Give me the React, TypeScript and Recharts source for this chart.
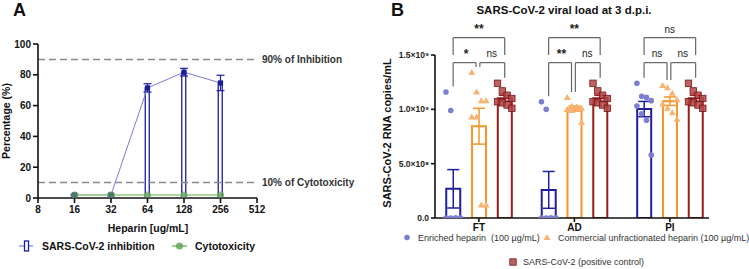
import React from "react";
import {
  Bar,
  ComposedChart,
  ErrorBar,
  Line,
  ReferenceDot,
  ReferenceLine,
  Scatter,
  XAxis,
  YAxis
} from "recharts";

const FONT = '"Liberation Sans", Arial, sans-serif';

// ---- panel A: inhibition vs cytotoxicity
const concentrations = [16, 32, 64, 128, 256];
const inhibitionMean = [2, 2, 71.5, 81.7, 74.7];
const inhibitionSem = [0.5, 0.5, 2.7, 2.5, 5];
const cytotoxicityMean = [1.9, 1.9, 1.9, 1.9, 1.9];
const concTicks = [8, 16, 32, 64, 128, 256, 512];
const percentTicks = [0, 20, 40, 60, 80, 100];

// ---- panel B: viral load at 3 d.p.i. (copies/mL, one value per animal)
const timepoints = ["FT", "AD", "PI"];
const enrichedValues = [
  [1.16e9, 0.99e9, 0, 0, 0, 0, 0, 0],
  [1.07e9, 1.0e9, 0, 0, 0, 0, 0, 0],
  [1.24e9, 1.12e9, 1.11e9, 1.08e9, 1.03e9, 0.96e9, 0.9e9, 0.58e9]
];
const commercialValues = [
  [1.34e9, 1.16e9, 1.08e9, 1.08e9, 0.93e9, 0.93e9, 0.12e9, 0.12e9],
  [1.11e9, 1.03e9, 1.02e9, 1.01e9, 1.0e9, 0.99e9, 1.02e9, 0.88e9],
  [1.22e9, 1.2e9, 1.15e9, 1.09e9, 1.05e9, 1.01e9, 0.97e9, 0.91e9]
];
const controlValues = [
  [1.24e9, 1.17e9, 1.13e9, 1.1e9, 1.07e9, 1.06e9, 1.04e9, 1.01e9],
  [1.24e9, 1.17e9, 1.13e9, 1.1e9, 1.07e9, 1.06e9, 1.04e9, 1.01e9],
  [1.24e9, 1.17e9, 1.13e9, 1.1e9, 1.07e9, 1.06e9, 1.04e9, 1.01e9]
];
const loadTicks = [0, 5e8, 1e9, 1.5e9];
// [all three, enriched vs commercial, commercial vs control]
const statLabels = [
  ["**", "*", "ns"],
  ["**", "**", "ns"],
  ["ns", "ns", "ns"]
];

const rowsA = concentrations.map((c, i) => ({
  conc: c,
  inh: inhibitionMean[i],
  inhErr: inhibitionSem[i],
  cyto: cytotoxicityMean[i]
}));

const mean = (v: number[]) => v.reduce((a, b) => a + b, 0) / v.length;
const sem = (v: number[]) => {
  const m = mean(v);
  const sd = Math.sqrt(v.reduce((a, b) => a + (b - m) ** 2, 0) / (v.length - 1));
  return sd / Math.sqrt(v.length);
};

const SERIES = [
  { key: "enr", values: enrichedValues, offset: -0.27, stroke: "#1f1f9c" },
  { key: "com", values: commercialValues, offset: 0, stroke: "#f6952c" },
  { key: "ctl", values: controlValues, offset: 0.27, stroke: "#9b1c1c" }
];

const rowsB: Record<string, number>[] = [];
timepoints.forEach((_, g) => {
  SERIES.forEach((s) => {
    const v = s.values[g];
    rowsB.push({ x: g + s.offset, [s.key]: mean(v), [s.key + "Err"]: sem(v) });
  });
});

// spread the individual points a little across the bar
const pointsOf = (values: number[][], offset: number) =>
  values.flatMap((v, g) => v.map((y, i) => ({ x: g + offset + ((i % 4) - 1.5) * 0.05, y })));

const SUP: Record<string, string> = { "8": "⁸", "9": "⁹" };
function sci(v: number) {
  if (v === 0) return "0.0";
  const e = Math.floor(Math.log10(v));
  return `${(v / 10 ** e).toFixed(1)}×10${String(e).split("").map((c) => SUP[c] ?? c).join("")}`;
}

const CircleDot = (p: any) => <circle cx={p.cx} cy={p.cy} r={2.8} fill="#7d7dd2" />;
const TriDot = (p: any) => (
  <polygon
    points={`${p.cx},${p.cy - 3.4} ${p.cx + 3.5},${p.cy + 2.6} ${p.cx - 3.5},${p.cy + 2.6}`}
    fill="#f8b370"
  />
);
const SquareDot = (p: any) => (
  <rect x={p.cx - 3.2} y={p.cy - 3.2} width={6.4} height={6.4} fill="#b04646" fillOpacity={0.85} stroke="#7c1515" strokeWidth={0.8} />
);

const TOP = 1.66e9;
const TOP_DROP = 1.5e9;
const LOW = 1.43e9;
const X_MIN = -0.46;
const X_MAX = 2.41;

function brackets() {
  const segs: number[][] = [];
  const labels: { x: number; y: number; text: string }[] = [];
  timepoints.forEach((_, g) => {
    const drop = SERIES.map((s) => Math.max(...s.values[g]) + 0.05e9);
    const xb = g + SERIES[0].offset;
    const xc = g + SERIES[1].offset;
    const xr = g + SERIES[2].offset;
    segs.push([xb, TOP_DROP, xb, TOP], [xb, TOP, xr, TOP], [xr, TOP, xr, TOP_DROP]);
    segs.push([xb, drop[0], xb, LOW], [xb, LOW, xc - 0.03, LOW], [xc - 0.03, LOW, xc - 0.03, drop[1]]);
    segs.push([xc + 0.01, drop[1], xc + 0.01, LOW], [xc + 0.01, LOW, xr, LOW], [xr, LOW, xr, drop[2]]);
    labels.push({ x: g, y: 1.74e9, text: statLabels[g][0] });
    labels.push({ x: (xb + xc) / 2, y: 1.51e9, text: statLabels[g][1] });
    labels.push({ x: (xc + xr) / 2, y: 1.51e9, text: statLabels[g][2] });
  });
  return { segs, labels };
}

function Txt({ x, y, children, style, vertical }: any) {
  return (
    <div
      style={{
        position: "absolute",
        left: x,
        top: y,
        lineHeight: 1,
        whiteSpace: "nowrap",
        transform: vertical ? "translate(-50%,-50%) rotate(-90deg)" : "translate(0,-50%)",
        ...style
      }}
    >
      {children}
    </div>
  );
}

const axisTickA = { fontSize: 10, fontWeight: 700, fill: "#111" };

function PanelA() {
  return (
    <div style={{ position: "absolute", left: 0, top: 0 }}>
      <ComposedChart width={375} height={269} data={rowsA} margin={{ top: 44, right: 118, bottom: 51, left: 8 }}>
        <XAxis
          dataKey="conc"
          type="number"
          scale="log"
          domain={[8, 512]}
          ticks={concTicks}
          interval={0}
          allowDataOverflow
          height={20}
          tickSize={5}
          tickMargin={3}
          stroke="#111"
          strokeWidth={1.6}
          tick={axisTickA}
        />
        <YAxis
          type="number"
          domain={[0, 100]}
          ticks={percentTicks}
          allowDataOverflow
          width={30}
          tickSize={5}
          stroke="#111"
          strokeWidth={1.6}
          tick={axisTickA}
        />
        <ReferenceLine
          y={90}
          stroke="#8a8a8a"
          strokeWidth={1.5}
          strokeDasharray="7 4"
          label={{ value: "90% of Inhibition", position: "right", fontSize: 10, fontWeight: 700, fill: "#333" }}
        />
        <ReferenceLine
          y={10}
          stroke="#8a8a8a"
          strokeWidth={1.5}
          strokeDasharray="7 4"
          label={{ value: "10% of Cytotoxicity", position: "right", fontSize: 10, fontWeight: 700, fill: "#333" }}
        />
        <Bar dataKey="inh" barSize={4} fill="#fff" stroke="#1c1ca0" strokeWidth={1.3} isAnimationActive={false} />
        <Line
          dataKey="inh"
          stroke="#7b7bdb"
          strokeWidth={1}
          isAnimationActive={false}
          dot={(p: any) => <rect key={p.index} x={p.cx - 2.6} y={p.cy - 2.6} width={5.2} height={5.2} fill="#1c1c96" />}
        >
          <ErrorBar dataKey="inhErr" width={4} stroke="#1c1ca0" strokeWidth={1.2} />
        </Line>
        <Line
          dataKey="cyto"
          stroke="#9fd08a"
          strokeOpacity={0.85}
          strokeWidth={2}
          isAnimationActive={false}
          dot={{ r: 3.6, fill: "#5f9f55", fillOpacity: 0.7, stroke: "none" }}
        />
      </ComposedChart>
    </div>
  );
}

function PanelB() {
  const { segs, labels } = brackets();
  return (
    <div style={{ position: "absolute", left: 375, top: 0 }}>
      <ComposedChart width={374} height={269} data={rowsB} margin={{ top: 17, right: 40, bottom: 31, left: 5 }}>
        <XAxis
          dataKey="x"
          type="number"
          domain={[X_MIN, X_MAX]}
          ticks={[0, 1, 2]}
          tickFormatter={(v: number) => timepoints[v]}
          allowDataOverflow
          height={20}
          tickSize={4}
          tickMargin={2}
          stroke="#111"
          strokeWidth={1.6}
          tick={{ fontSize: 10, fontWeight: 700, fill: "#111" }}
        />
        <XAxis xAxisId="pts" dataKey="x" type="number" domain={[X_MIN, X_MAX]} allowDataOverflow hide />
        <YAxis
          type="number"
          domain={[0, 1.85e9]}
          ticks={loadTicks}
          tickFormatter={sci}
          allowDataOverflow
          width={55}
          axisLine={false}
          tickSize={4}
          stroke="#111"
          strokeWidth={1.6}
          tick={{ fontSize: 8.5, fontWeight: 700, fill: "#222" }}
        />
        <ReferenceLine segment={[{ x: X_MIN, y: 0 }, { x: X_MIN, y: 1.5e9 }]} stroke="#111" strokeWidth={1.6} />
        {SERIES.map((s) => (
          <Bar
            key={s.key}
            dataKey={s.key}
            stackId="b"
            barSize={14}
            fill="#fff"
            stroke={s.stroke}
            strokeWidth={2}
            isAnimationActive={false}
          >
            <ErrorBar dataKey={s.key + "Err"} width={6} stroke={s.stroke} strokeWidth={1.5} />
          </Bar>
        ))}
        <Scatter xAxisId="pts" data={pointsOf(enrichedValues, SERIES[0].offset)} dataKey="y" shape={CircleDot} isAnimationActive={false} />
        <Scatter xAxisId="pts" data={pointsOf(commercialValues, SERIES[1].offset)} dataKey="y" shape={TriDot} isAnimationActive={false} />
        <Scatter xAxisId="pts" data={pointsOf(controlValues, SERIES[2].offset)} dataKey="y" shape={SquareDot} isAnimationActive={false} />
        {segs.map(([x1, y1, x2, y2], i) => (
          <ReferenceLine key={"s" + i} segment={[{ x: x1, y: y1 }, { x: x2, y: y2 }]} stroke="#666" strokeWidth={1.2} />
        ))}
        {labels.map((l, i) => (
          <ReferenceDot
            key={"l" + i}
            x={l.x}
            y={l.y}
            r={0}
            stroke="none"
            fill="none"
            label={{ value: l.text, position: "center", fontSize: l.text === "ns" ? 10 : 12, fontWeight: l.text === "ns" ? 400 : 700, fill: "#222" }}
          />
        ))}
      </ComposedChart>
    </div>
  );
}

export default function App() {
  return (
    <div style={{ position: "absolute", left: 0, top: 0, width: 749, height: 269, background: "#fff", fontFamily: FONT, color: "#111", overflow: "hidden" }}>
      <PanelA />
      <PanelB />

      <div style={{ position: "absolute", left: 13, top: 1, fontSize: 18, fontWeight: 700, lineHeight: 1 }}>A</div>
      <div style={{ position: "absolute", left: 391, top: 1, fontSize: 18, fontWeight: 700, lineHeight: 1 }}>B</div>

      <Txt x={6} y={121} vertical style={{ fontSize: 10.5, fontWeight: 700 }}>Percentage (%)</Txt>
      <Txt x={148} y={228} style={{ fontSize: 10.5, fontWeight: 700, transform: "translate(-50%,-50%)" }}>Heparin [ug/mL]</Txt>

      <svg style={{ position: "absolute", left: 0, top: 236 }} width={200} height={20}>
        <line x1={19} y1={10} x2={33} y2={10} stroke="#7b7bdb" strokeWidth={1.2} />
        <rect x={24.5} y={5} width={4} height={10} fill="#fff" stroke="#1c1ca0" strokeWidth={1.3} />
        <line x1={172} y1={10} x2={187} y2={10} stroke="#9fd08a" strokeWidth={2} />
        <circle cx={179.5} cy={10} r={3.6} fill="#5f9f55" fillOpacity={0.8} />
      </svg>
      <Txt x={42} y={246} style={{ fontSize: 10.5, fontWeight: 700 }}>SARS-CoV-2 inhibition</Txt>
      <Txt x={195} y={246} style={{ fontSize: 10.5, fontWeight: 700 }}>Cytotoxicity</Txt>

      <Txt x={564} y={11} style={{ fontSize: 11.5, fontWeight: 700, transform: "translate(-50%,-50%)" }}>
        SARS-CoV-2 viral load at 3 d.p.i.
      </Txt>
      <Txt x={387} y={133} vertical style={{ fontSize: 11, fontWeight: 700 }}>SARS-CoV-2 RNA copies/mL</Txt>

      <svg style={{ position: "absolute", left: 400, top: 230 }} width={340} height={40}>
        <circle cx={7} cy={7.5} r={2.8} fill="#7d7dd2" />
        <polygon points="147,4.1 150.5,10.1 143.5,10.1" fill="#f8b370" />
        <rect x={109.8} y={28.8} width={6.4} height={6.4} fill="#b04646" fillOpacity={0.85} stroke="#7c1515" strokeWidth={0.8} />
      </svg>
      <Txt x={418} y={238} style={{ fontSize: 9, color: "#333" }}>Enriched heparin&nbsp; (100 µg/mL)</Txt>
      <Txt x={558} y={238} style={{ fontSize: 9, color: "#333" }}>Commercial unfractionated heparin (100 µg/mL)</Txt>
      <Txt x={523} y={262} style={{ fontSize: 9, color: "#333" }}>SARS-CoV-2 (positive control)</Txt>
    </div>
  );
}
